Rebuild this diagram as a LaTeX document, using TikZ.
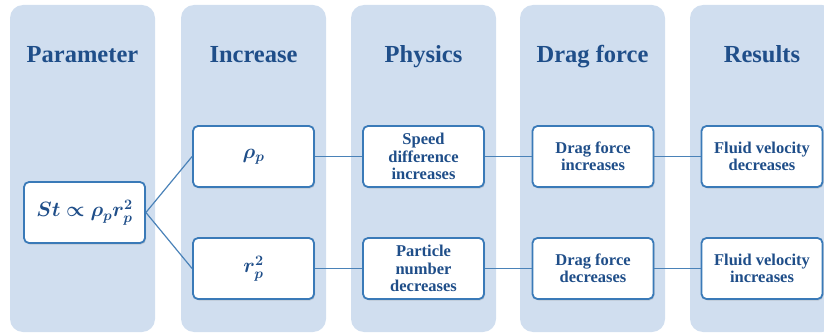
\documentclass[tikz,border=0pt]{standalone}
\usepackage{amsmath,amssymb}
\usepackage{bm}
\usepackage{fontspec}
\setmainfont{Liberation Serif}
\usepackage{xcolor}
\usetikzlibrary{positioning,shadows}

\definecolor{colfill}{HTML}{D0DEEF}
\definecolor{titleblue}{HTML}{1F4E89}
\definecolor{boxline}{HTML}{3A7AB8}
\definecolor{linkblue}{HTML}{4A82B8}

\begin{document}
\begin{tikzpicture}[x=1pt,y=-1pt,
  column/.style={fill=colfill,rounded corners=13pt,minimum width=145pt,minimum height=327pt,inner sep=0pt},
  title/.style={text=titleblue,anchor=base,font=\bfseries\fontsize{24.5}{28}\selectfont},
  stepbox/.style={draw=boxline,line width=1.8pt,fill=white,rounded corners=5pt,
    minimum width=121pt,minimum height=61pt,align=center,text=titleblue,
    font=\bfseries\fontsize{16.5}{17.5}\selectfont,
    drop shadow={opacity=0.25,shadow xshift=1pt,shadow yshift=-1.5pt}},
  link/.style={draw=linkblue,line width=1.2pt}]
  \useasboundingbox (0,0) rectangle (824,334);
  \clip (0,0) rectangle (824,334);
  % background columns
  \node[column] (colA) at (82.5,168.5) {};
  \node[column] (colB) at (253.5,168.5) {};
  \node[column] (colC) at (423.5,168.5) {};
  \node[column] (colD) at (592.5,168.5) {};
  \node[column] (colE) at (762.5,168.5) {};
  % headings
  \node[title] (tA) at (82.5,63) {Parameter};
  \node[title] (tB) at (253.5,63) {Increase};
  \node[title] (tC) at (423.5,63) {Physics};
  \node[title] (tD) at (592.5,63) {Drag force};
  \node[title] (tE) at (762,63) {Results};
  % boxes
  \node[stepbox,font=\fontsize{21}{23}\selectfont] (st) at (84.5,212.5) {$\bm{St \propto \rho_p r_p^2}$};
  \node[stepbox,font=\fontsize{21}{23}\selectfont] (rho) at (253.5,156.5) {$\bm{\rho_p}$};
  \node[stepbox,font=\fontsize{21}{23}\selectfont] (rad) at (253.5,268.5) {$\bm{r_p^2}$};
  \node[stepbox] (speed) at (423.5,156.5) {Speed\\difference\\increases};
  \node[stepbox] (count) at (423.5,268.5) {Particle\\number\\decreases};
  \node[stepbox] (dragup) at (593,156.5) {Drag force\\increases};
  \node[stepbox] (dragdn) at (593,268.5) {Drag force\\decreases};
  \node[stepbox] (fluiddn) at (762,156.5) {Fluid velocity\\decreases};
  \node[stepbox] (fluidup) at (762,268.5) {Fluid velocity\\increases};
  % connectors
  \draw[link] (st.east) -- (rho.west);
  \draw[link] (st.east) -- (rad.west);
  \draw[link] (rho) -- (speed) -- (dragup) -- (fluiddn);
  \draw[link] (rad) -- (count) -- (dragdn) -- (fluidup);
\end{tikzpicture}
\end{document}
